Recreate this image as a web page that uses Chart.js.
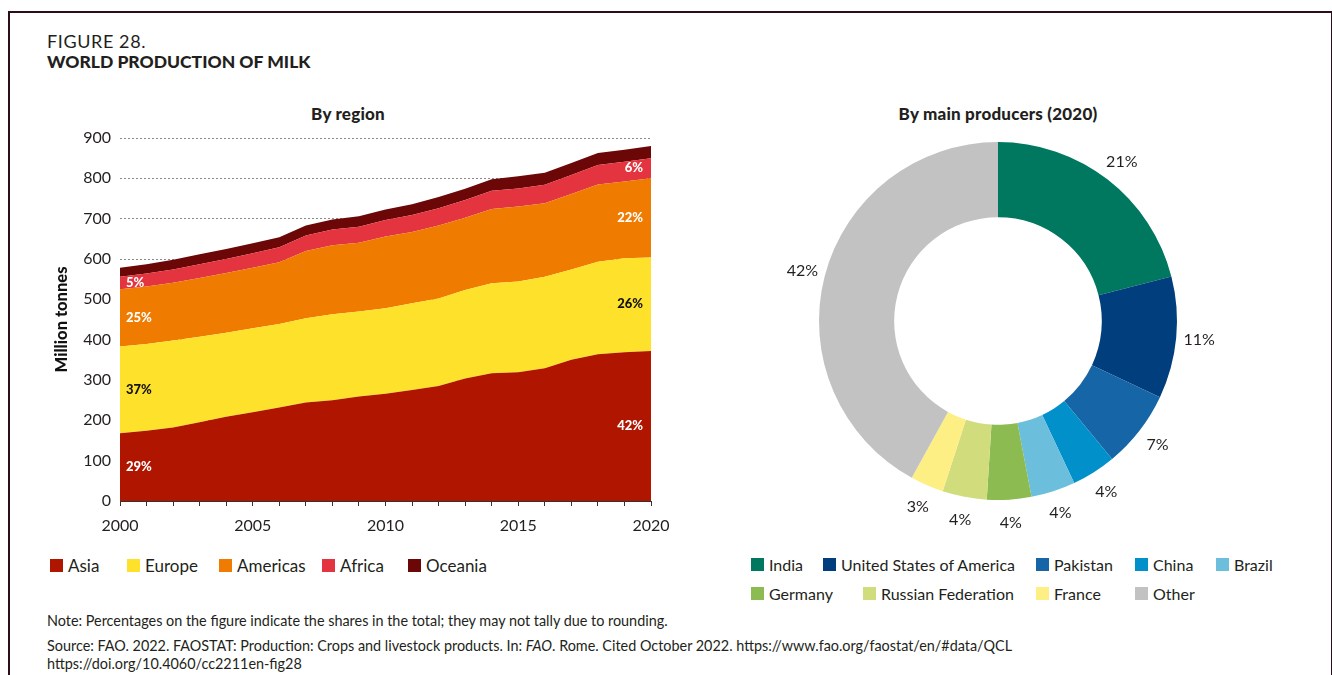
<!DOCTYPE html>
<html>
<head>
<meta charset="utf-8">
<script src="https://cdn.jsdelivr.net/npm/chart.js@4.4.1/dist/chart.umd.min.js"></script>
<style>
  body { margin: 0; background: #fff; font-family: Lato, "Noto Sans", sans-serif; color: #231f20; overflow: hidden; }
  #page { position: relative; width: 1332px; height: 675px; }
  #frame { position: absolute; left: 8px; top: 11px; width: 1321px; height: 700px; border: 2px solid #2e0d1a; border-bottom: none; }
  .abs { position: absolute; white-space: nowrap; }
  #fig { left: 47px; top: 31px; font-size: 18px; line-height: 20px; }
  #fig span { letter-spacing: 0.6px; }
  #fig b { font-weight: 900; font-size: 17.5px; }
  .sub { font-size: 17px; font-weight: 900; top: 103px; transform: translateX(-50%); letter-spacing: 0.2px; }
  #legendLeft { font-size: 17px; }
  #legendRight { font-size: 16px; }
  .item { position: absolute; display: flex; align-items: center; }
  .sw { width: 13px; height: 13px; margin-right: 5px; }
  .foot { left: 47px; font-size: 14.4px; }
  canvas { position: absolute; }
</style>
</head>
<body>
<div id="page">
  <div id="frame"></div>
  <div id="fig" class="abs"><span>FIGURE 28.</span><br><b>WORLD PRODUCTION OF MILK</b></div>
  <div class="abs sub" style="left:348px">By region</div>
  <div class="abs sub" style="left:998px">By main producers (2020)</div>

  <canvas id="areaChart" width="640" height="440" style="left:45px; top:95px"></canvas>
  <canvas id="donutChart" width="480" height="440" style="left:758px; top:101px"></canvas>

  <div id="legendLeft"></div>
  <div id="legendRight"></div>

  <div class="abs foot" style="top:612px">Note: Percentages on the figure indicate the shares in the total; they may not tally due to rounding.</div>
  <div class="abs foot" style="top:637px">Source: FAO. 2022. FAOSTAT: Production: Crops and livestock products. In: <i>FAO</i>. Rome. Cited October 2022. https://www.fao.org/faostat/en/#data/QCL</div>
  <div class="abs foot" style="top:655px">https://doi.org/10.4060/cc2211en-fig28</div>
</div>

<script>
// milk production by region, million tonnes
const years = [2000, 2001, 2002, 2003, 2004, 2005, 2006, 2007, 2008, 2009, 2010,
               2011, 2012, 2013, 2014, 2015, 2016, 2017, 2018, 2019, 2020];
const asia     = [168, 174, 182, 195, 209, 220, 232, 244, 250, 259, 266, 275, 285, 304, 317, 319, 329, 350, 364, 369, 372];
const europe   = [215, 215, 216, 212, 208, 208, 207, 209, 213, 211, 212, 215, 217, 219, 223, 225, 227, 224, 229, 233, 232];
const americas = [142, 143, 143, 146, 148, 150, 153, 167, 171, 170, 178, 177, 181, 179, 184, 186, 182, 187, 192, 190, 196];
const africa   = [31, 32, 33, 34, 35, 36, 37, 38, 39, 40, 41, 42, 43, 44, 45, 45, 46, 47, 48, 49, 50];
const oceania  = [22, 23, 24, 25, 25, 25, 25, 25, 25, 26, 26, 27, 28, 28, 29, 30, 30, 30, 30, 30, 30];
const yTicks = [0, 100, 200, 300, 400, 500, 600, 700, 800, 900];

const regions = ['Asia', 'Europe', 'Americas', 'Africa', 'Oceania'];
const regionColors = ['#b01500', '#fee12b', '#ef7c00', '#e3343f', '#6b0707'];
const regionLabelColors = ['#fff', '#111', '#fff', '#fff', null];

// main producers 2020, share of world total (%)
const producers = ['India', 'United States of America', 'Pakistan', 'China', 'Brazil',
                   'Germany', 'Russian Federation', 'France', 'Other'];
const shares = [21, 11, 7, 4, 4, 4, 4, 3, 42];
const producerColors = ['#00775f', '#003e7e', '#1565a7', '#0190c9', '#6cbfdc',
                        '#8bbb51', '#d1dd7d', '#fdef83', '#c2c2c2'];

const FONT = 'Lato';
const seriesValues = [asia, europe, americas, africa, oceania];

// share labels at both ends of each band
const bandLabels = {
  id: 'bandLabels',
  afterDatasetsDraw(chart) {
    const {ctx, chartArea, scales: {y}} = chart;
    const last = years.length - 1;
    ctx.save();
    ctx.font = '900 13px ' + FONT;
    ctx.textBaseline = 'middle';
    [0, last].forEach(idx => {
      const total = seriesValues.reduce((s, arr) => s + arr[idx], 0);
      let base = 0;
      seriesValues.forEach((arr, k) => {
        const v = arr[idx];
        if (regionLabelColors[k]) {
          const py = y.getPixelForValue(base + v / 2);
          ctx.fillStyle = regionLabelColors[k];
          ctx.textAlign = idx === 0 ? 'left' : 'right';
          const px = idx === 0 ? chartArea.left + 6 : chartArea.right - 8;
          ctx.fillText(Math.round(v / total * 100) + '%', px, py);
        }
        base += v;
      });
    });
    ctx.restore();
  }
};

new Chart(document.getElementById('areaChart'), {
  type: 'line',
  data: {
    labels: years,
    datasets: regions.map((name, k) => ({
      label: name,
      data: seriesValues[k],
      backgroundColor: regionColors[k],
      borderWidth: 0,
      pointRadius: 0,
      fill: k === 0 ? 'origin' : '-1',
      tension: 0
    }))
  },
  options: {
    responsive: false,
    animation: false,
    events: [],
    layout: { padding: { top: 43, right: 34, left: 0, bottom: 0 } },
    plugins: { legend: { display: false }, tooltip: { enabled: false } },
    scales: {
      x: {
        grid: { drawOnChartArea: false, drawTicks: true, tickLength: 5, tickColor: '#333' },
        border: { display: true, color: '#333', width: 1 },
        ticks: {
          autoSkip: false, maxRotation: 0, padding: 10,
          color: '#231f20', font: { family: FONT, size: 16 },
          callback: (val, i) => years[i] % 5 === 0 ? years[i] : ''
        },
        afterFit: s => { s.height = 34; }
      },
      y: {
        stacked: true,
        min: 0, max: 900,
        afterBuildTicks: s => { s.ticks = yTicks.map(v => ({ value: v })); },
        grid: { color: '#8a8a8a', lineWidth: 1, drawTicks: false },
        border: { display: false, dash: [2, 2] },
        ticks: { padding: 9, color: '#231f20', font: { family: FONT, size: 16 } },
        title: {
          display: true, text: 'Million tonnes', color: '#111',
          font: { family: FONT, size: 16.5, weight: '900' }, padding: { top: 7, bottom: 0 }
        },
        afterFit: s => { s.width = 75; }
      }
    }
  },
  plugins: [bandLabels]
});

// percentage labels around the ring
const ringLabels = {
  id: 'ringLabels',
  afterDatasetsDraw(chart) {
    const {ctx} = chart;
    ctx.save();
    ctx.font = '16px ' + FONT;
    ctx.fillStyle = '#231f20';
    ctx.textAlign = 'center';
    ctx.textBaseline = 'middle';
    chart.getDatasetMeta(0).data.forEach((arc, i) => {
      const p = arc.getProps(['x', 'y', 'startAngle', 'endAngle', 'outerRadius'], true);
      const mid = (p.startAngle + p.endAngle) / 2;
      const r = p.outerRadius + 23;
      ctx.fillText(shares[i] + '%', p.x + Math.cos(mid) * r, p.y + Math.sin(mid) * r);
    });
    ctx.restore();
  }
};

new Chart(document.getElementById('donutChart'), {
  type: 'doughnut',
  data: {
    labels: producers,
    datasets: [{ data: shares, backgroundColor: producerColors, borderWidth: 0, hoverOffset: 0 }]
  },
  options: {
    responsive: false,
    animation: false,
    events: [],
    cutout: '58%',
    layout: { padding: { left: 61, right: 61, top: 41, bottom: 41 } },
    plugins: { legend: { display: false }, tooltip: { enabled: false } }
  },
  plugins: [ringLabels]
});

// legends
function addItem(parent, name, color, left, top) {
  const el = document.createElement('div');
  el.className = 'item';
  el.style.left = left + 'px';
  el.style.top = top + 'px';
  el.innerHTML = '<span class="sw" style="background:' + color + '"></span><span>' + name + '</span>';
  parent.appendChild(el);
}
const legendLeft = document.getElementById('legendLeft');
const leftPos = [50, 127, 219, 322, 408];
regions.forEach((r, k) => addItem(legendLeft, r, regionColors[k], leftPos[k], 555));

const legendRight = document.getElementById('legendRight');
const rightPos = [[751, 555], [823, 555], [1036, 555], [1135, 555], [1216, 555],
                  [751, 584], [863, 584], [1036, 584], [1135, 584]];
producers.forEach((p, k) => addItem(legendRight, p, producerColors[k], rightPos[k][0], rightPos[k][1]));
</script>
</body>
</html>
